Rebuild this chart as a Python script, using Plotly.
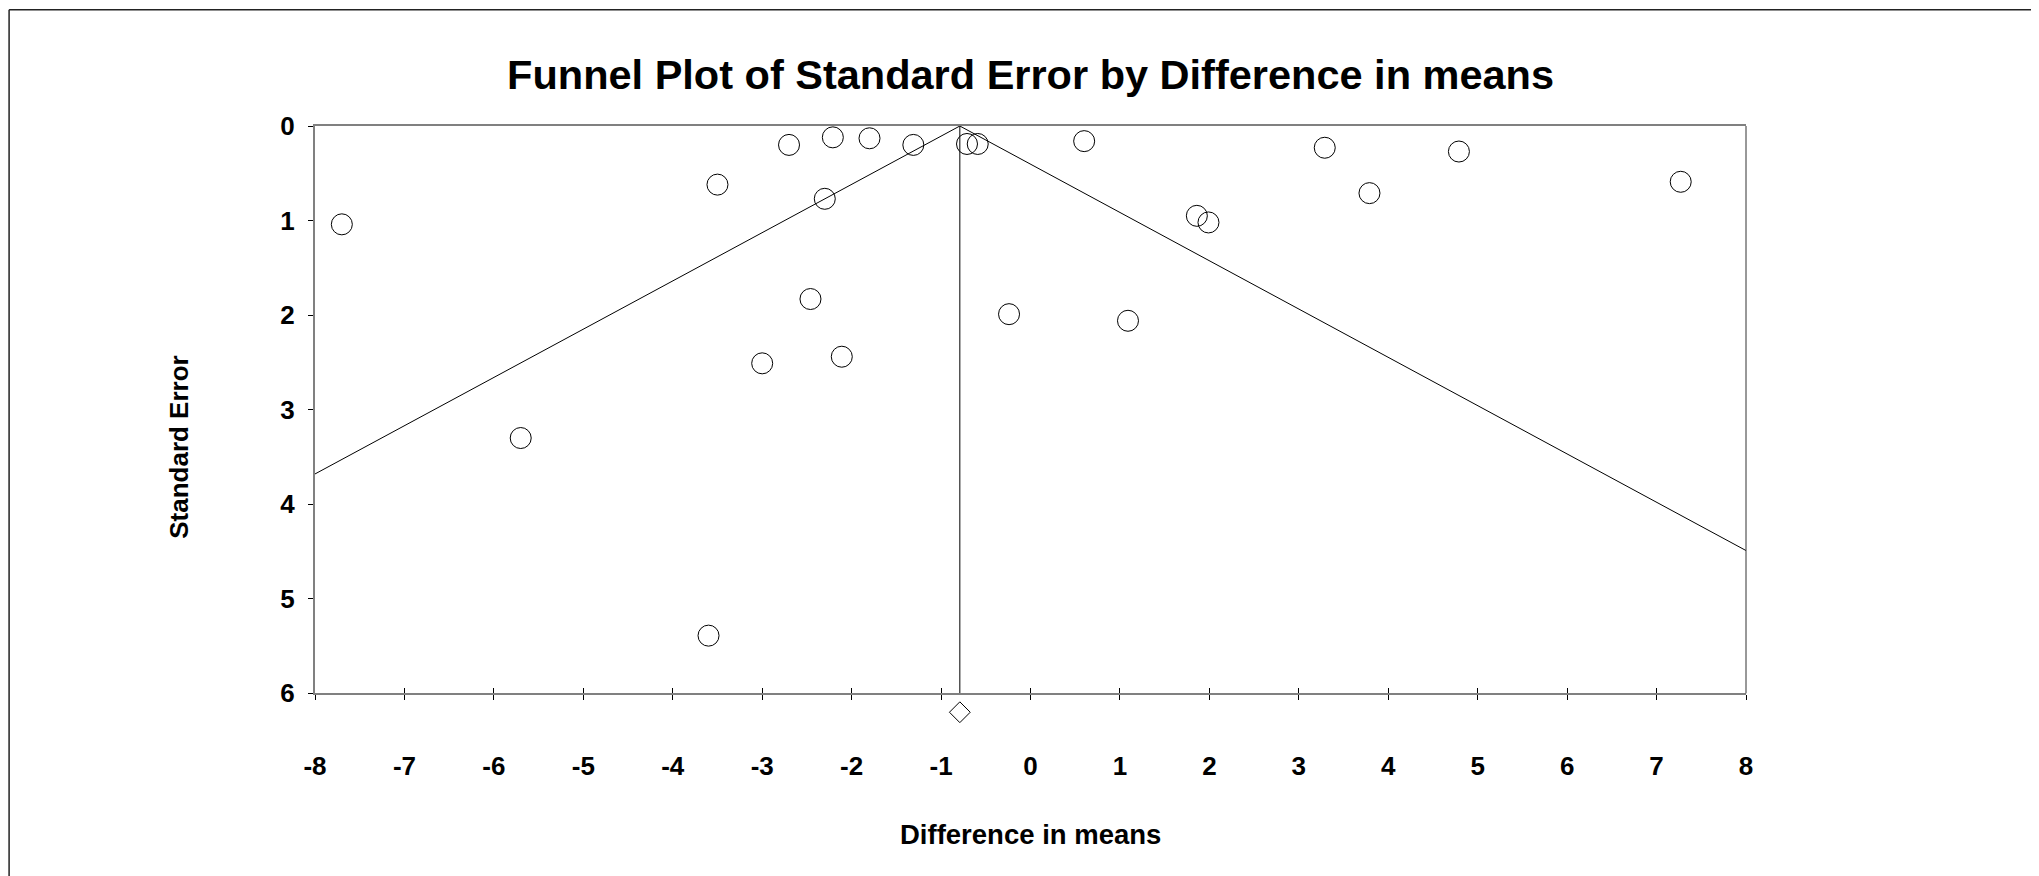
import plotly.graph_objects as go

# ---- data ----
diff_in_means = [-7.70, -3.50, -2.70, -2.21, -1.80, -1.31, -0.71, -0.59, -2.30, -2.46,
                 -0.24, -3.00, -2.11, -5.70, -3.60, 0.60, 3.29, 4.79, 7.27, 3.79,
                 1.86, 1.99, 1.09]
std_error = [1.04, 0.62, 0.20, 0.12, 0.13, 0.20, 0.19, 0.19, 0.77, 1.83,
             1.99, 2.51, 2.44, 3.30, 5.39, 0.16, 0.23, 0.27, 0.59, 0.71,
             0.95, 1.02, 2.06]

combined_x = [-0.79]
combined_se = [6.2]

funnel_x = [-8.0, -0.79, 8.0]
funnel_se = [3.68, 0.0, 4.49]

mean_line_x = [-0.79, -0.79]
mean_line_se = [0.0, 6.0]

x_ticks = [-8, -7, -6, -5, -4, -3, -2, -1, 0, 1, 2, 3, 4, 5, 6, 7, 8]
x_tick_labels = ["-8", "-7", "-6", "-5", "-4", "-3", "-2", "-1", "0",
                 "1", "2", "3", "4", "5", "6", "7", "8"]
y_ticks = [0, 1, 2, 3, 4, 5, 6]
y_tick_labels = ["0", "1", "2", "3", "4", "5", "6"]

# ---- layout geometry (figure pixels; page has an 8px body margin) ----
W, H = 2039, 876
OFF = 8
PLOT_L, PLOT_R, PLOT_T, PLOT_B = 315.3 - OFF, 1745.8 - OFF, 125.7 - OFF, 693.3 - OFF
PAPER_B = 722.0
ML, MR, MT, MB = PLOT_L, W - PLOT_R, PLOT_T, H - PAPER_B
PW = PLOT_R - PLOT_L
PH = PAPER_B - PLOT_T
Y_DOM0 = (PAPER_B - PLOT_B) / PH
Y2_MAX = 6.0 * PH / (PLOT_B - PLOT_T)


def px_x(px):
    return (px - OFF - ML) / PW


def px_y(py):
    return (PAPER_B - (py - OFF)) / PH


FONT = "Liberation Sans, Arial, sans-serif"

fig = go.Figure()

fig.add_trace(go.Scatter(x=funnel_x, y=funnel_se, mode="lines",
                         line=dict(color="black", width=1), hoverinfo="skip",
                         showlegend=False))
fig.add_trace(go.Scatter(x=mean_line_x, y=mean_line_se, mode="lines",
                         line=dict(color="black", width=1), hoverinfo="skip",
                         showlegend=False))
fig.add_trace(go.Scatter(x=diff_in_means, y=std_error, mode="markers",
                         marker=dict(symbol="circle-open", size=21,
                                     color="black", line=dict(width=1, color="black")),
                         showlegend=False, name="Studies"))
# combined effect diamond sits below the axis: drawn on a taller hidden y axis
fig.add_trace(go.Scatter(x=combined_x, y=combined_se, xaxis="x", yaxis="y2",
                         mode="markers",
                         marker=dict(symbol="diamond-open", size=16,
                                     color="black", line=dict(width=1, color="black")),
                         cliponaxis=False, showlegend=False, name="Combined"))
# helper trace to activate the overlay axis (inside ticks)
fig.add_trace(go.Scatter(x=[0], y=[0], xaxis="x2", yaxis="y", mode="markers",
                         marker=dict(opacity=0), hoverinfo="skip", showlegend=False))

tickfont = dict(family=FONT, size=26, color="black", weight="bold")

fig.update_layout(
    width=W, height=H,
    margin=dict(l=ML, r=MR, t=MT, b=MB, pad=0, autoexpand=False),
    paper_bgcolor="white", plot_bgcolor="rgba(0,0,0,0)",
    title=dict(text="Funnel Plot of Standard Error by Difference in means",
               font=dict(family=FONT, size=41.5, color="black", weight="bold"),
               x=(ML + PW / 2) / W, xanchor="center",
               y=1 - (74 - OFF) / H, yanchor="middle", yref="container"),
    xaxis=dict(range=[-8, 8], tickvals=x_ticks, ticktext=x_tick_labels,
               ticks="outside", ticklen=5, anchor="y",
               tickcolor="black", tickwidth=1, showgrid=False, zeroline=False,
               showline=True, linecolor="#808080", linewidth=2, mirror=True,
               tickfont=tickfont, ticklabelstandoff=43),
    xaxis2=dict(range=[-8, 8], overlaying="x", side="bottom", anchor="y",
                tickvals=x_ticks, ticks="inside", ticklen=5, tickcolor="black",
                tickwidth=1, showticklabels=False, showgrid=False, zeroline=False,
                showline=False),
    yaxis=dict(range=[6, 0], domain=[Y_DOM0, 1], tickvals=y_ticks,
               ticktext=y_tick_labels, ticks="outside", ticklen=5,
               tickcolor="black", tickwidth=1, showgrid=False, zeroline=False,
               showline=True, linecolor="#808080", linewidth=2,
               tickfont=tickfont, ticklabelstandoff=8),
    yaxis2=dict(range=[Y2_MAX, 0], domain=[0, 1], anchor="x", visible=False,
                showgrid=False, zeroline=False),
    shapes=[
        # thin dark right border of plot area
        dict(type="line", xref="paper", yref="paper", x0=1, x1=1, y0=Y_DOM0, y1=1,
             line=dict(color="#333333", width=1)),
        # outer image frame (top and left)
        dict(type="line", xref="paper", yref="paper",
             x0=px_x(9.5), x1=px_x(W + 20), y0=px_y(9.5), y1=px_y(9.5),
             line=dict(color="#222222", width=1.5)),
        dict(type="line", xref="paper", yref="paper",
             x0=px_x(9.5), x1=px_x(9.5), y0=px_y(9.5), y1=px_y(H + 40),
             line=dict(color="#222222", width=1.5)),
    ],
    annotations=[
        dict(text="Difference in means", xref="paper", yref="paper",
             x=0.5, y=px_y(835), xanchor="center", yanchor="middle",
             showarrow=False,
             font=dict(family=FONT, size=27.5, color="black", weight="bold")),
        dict(text="Standard Error", xref="paper", yref="paper", textangle=-90,
             x=px_x(179), y=px_y(447), xanchor="center", yanchor="middle",
             showarrow=False,
             font=dict(family=FONT, size=26, color="black", weight="bold")),
    ],
)

fig.write_html("out.html")
